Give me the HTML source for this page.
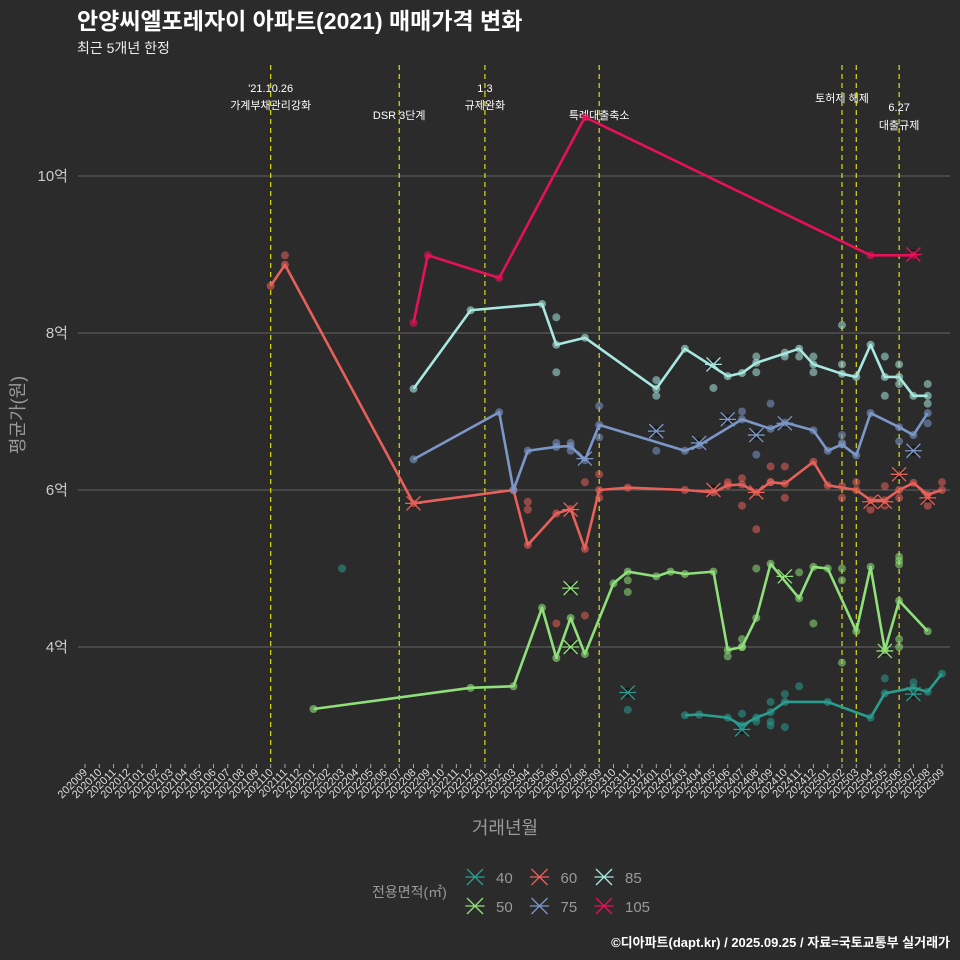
<!DOCTYPE html>
<html><head><meta charset="utf-8"><style>
html,body{margin:0;padding:0;background:#2b2b2b;}
svg{display:block;font-family:"Liberation Sans","Noto Sans CJK KR",sans-serif;}
</style></head><body>
<svg id="chart" width="960" height="960" viewBox="0 0 960 960">
<rect width="960" height="960" fill="#2b2b2b"/>
<text x="77" y="29" fill="#fff" font-size="23" font-weight="bold">안양씨엘포레자이 아파트(2021) 매매가격 변화</text>
<text x="77" y="53" fill="#eee" font-size="14">최근 5개년 한정</text>
<g id="grid"></g><g id="vlines"></g><g id="series"></g><g id="axes"></g>
<text transform="translate(24,415) rotate(-90)" text-anchor="middle" fill="#999" font-size="18">평균가(원)</text>
<text x="505" y="834" text-anchor="middle" fill="#999" font-size="18">거래년월</text>
<g id="legend">
<text x="372" y="897" fill="#999" font-size="14">전용면적(㎡)</text>
</g>
<text x="950" y="947" text-anchor="end" fill="#fff" font-size="13" font-weight="bold">©디아파트(dapt.kr) / 2025.09.25 / 자료=국토교통부 실거래가</text>
</svg>
<script>
const months=[];for(let y=2020,m=9;months.length<61;){months.push(y+String(m).padStart(2,'0'));m++;if(m>12){m=1;y++;}}
const yTicks=[4,6,8,10];
const eventMonths=[13,22,28,36,53,54,57];
const eventLabels=[["'21.10.26","가계부채관리강화"],["","DSR 3단계"],["1.3","규제완화"],["","특례대출축소"],["토허제 해제",""],["",""],["6.27","대출규제"]];
const sizes=["40","50","60","75","85","105"];
const colors=["#2a9d8f","#8fe07a","#e8605a","#7b97c8","#a8e8e0","#e8105a"];
const line40=[[42,3.13],[43,3.14],[45,3.1],[46,3.0],[47,3.1],[48,3.17],[49,3.3],[52,3.3],[55,3.1],[56,3.41],[58,3.48],[59,3.43],[60,3.66]];
const line50=[[16,3.21],[27,3.48],[30,3.5],[32,4.5],[33,3.86],[34,4.37],[35,3.91],[37,4.81],[38,4.96],[40,4.9],[41,4.96],[42,4.93],[44,4.96],[45,3.96],[46,4.0],[47,4.37],[48,5.06],[50,4.62],[51,5.02],[52,5.0],[54,4.2],[55,5.02],[56,3.96],[57,4.59],[59,4.2]];
const line60=[[13,8.6],[14,8.87],[23,5.83],[30,6.0],[31,5.3],[33,5.7],[34,5.76],[35,5.25],[36,6.0],[38,6.03],[42,6.0],[44,5.97],[45,6.06],[46,6.07],[47,5.97],[48,6.1],[49,6.08],[51,6.36],[52,6.06],[54,6.0],[55,5.87],[56,5.87],[57,6.0],[58,6.09],[59,5.94],[60,6.0]];
const line75=[[23,6.39],[29,6.99],[30,6.0],[31,6.5],[33,6.55],[34,6.56],[35,6.38],[36,6.83],[42,6.5],[43,6.57],[46,6.9],[48,6.78],[49,6.86],[51,6.76],[52,6.5],[53,6.58],[54,6.44],[55,6.98],[57,6.8],[58,6.7],[59,6.98]];
const line85=[[23,7.29],[27,8.29],[32,8.37],[33,7.85],[35,7.94],[40,7.29],[42,7.8],[45,7.45],[46,7.49],[47,7.62],[50,7.8],[51,7.6],[53,7.48],[54,7.44],[55,7.85],[56,7.44],[57,7.44],[58,7.2],[59,7.2]];
const line105=[[23,8.13],[24,8.99],[29,8.7],[35,10.75],[55,8.99],[58,8.99]];
const pts40=[[38,3.2],[46,3.15],[47,3.05],[48,3.05],[48,3.3],[49,3.4],[50,3.5],[48,3.0],[49,2.98],[56,3.6],[58,3.55],[18,5.0]];
const pts50=[[38,4.85],[38,4.7],[45,3.88],[46,4.1],[46,4.0],[47,5.0],[50,4.95],[51,4.3],[53,5.0],[53,4.85],[53,3.8],[57,5.15],[57,5.1],[57,5.05],[57,4.1],[57,4.0]];
const pts60=[[36,6.2],[35,6.1],[31,5.85],[31,5.75],[36,5.9],[45,6.1],[46,6.15],[46,5.8],[47,5.5],[48,6.3],[48,6.1],[49,6.3],[49,5.9],[53,6.05],[53,5.9],[55,5.75],[56,6.05],[56,5.8],[57,5.9],[59,5.8],[60,6.1],[33,4.3],[35,4.4],[14,8.99],[54,6.1]];
const pts75=[[36,7.07],[36,6.67],[40,6.5],[46,7.0],[47,6.45],[48,7.1],[53,6.6],[53,6.7],[57,6.62],[59,6.85],[33,6.6],[34,6.6],[34,6.5]];
const pts85=[[33,8.2],[33,7.5],[40,7.4],[40,7.2],[44,7.3],[47,7.5],[47,7.7],[49,7.7],[49,7.75],[50,7.7],[51,7.7],[51,7.5],[53,8.1],[53,7.6],[56,7.7],[56,7.2],[57,7.6],[57,7.35],[59,7.35],[59,7.1]];
const pts105=[];
const x40=[[38,3.42],[46,2.95],[58,3.4]];
const x50=[[34,4.75],[34,4.0],[49,4.9],[56,3.95]];
const x60=[[23,5.83],[34,5.75],[44,6.0],[57,6.2],[59,5.9],[55,5.85],[56,5.85],[47,5.97]];
const x75=[[35,6.4],[40,6.75],[43,6.6],[45,6.9],[47,6.7],[49,6.85],[58,6.5]];
const x85=[[44,7.6]];
const x105=[[58,9.0]];
const lines=[line40,line50,line60,line75,line85,line105];
const ptsAll=[pts40,pts50,pts60,pts75,pts85,pts105];
const xsAll=[x40,x50,x60,x75,x85,x105];
const NS="http://www.w3.org/2000/svg";
const X=i=>85+14.283*i, Y=v=>490-(v-6)*78.5;
function mk(tag,attrs,parent){const e=document.createElementNS(NS,tag);for(const k in attrs)e.setAttribute(k,attrs[k]);parent.appendChild(e);return e;}
const grid=document.getElementById('grid'),vl=document.getElementById('vlines'),ser=document.getElementById('series'),ax=document.getElementById('axes'),leg=document.getElementById('legend');
yTicks.forEach(v=>{
 const l=mk('line',{x1:78,x2:950,y1:Y(v),y2:Y(v),stroke:'#666','stroke-width':1},grid);
 
 
 const t=mk('text',{x:68,y:Y(v)+5,'text-anchor':'end',fill:'#ccc','font-size':15},ax);
 t.textContent=v+'억';
 
 
});
months.forEach((m,i)=>{
 const tk=mk('line',{x1:X(i),x2:X(i),y1:764,y2:768,stroke:'#aaa','stroke-width':1},ax);
 
 
 const t=mk('text',{transform:`translate(${X(i)+3},${773}) rotate(-45)`,'text-anchor':'end',fill:'#ddd','font-size':11},ax);
 t.textContent=m;
 
 
});
eventMonths.forEach((mi,k)=>{
 const l=mk('line',{x1:X(mi),x2:X(mi),y1:65,y2:762,stroke:'#dede10','stroke-width':1.2,'stroke-dasharray':'5,4'},vl);
 
 
 const lb=eventLabels[k];
 let y1=92,y2=109;
 if(mi===22||mi===36){y2=119;}
 if(mi===53){y1=102;}
 if(mi===57){y1=111;y2=129;}
 [[lb[0],y1],[lb[1],y2]].forEach(([s,yy])=>{if(!s)return;
  const t=mk('text',{x:X(mi),y:yy,'text-anchor':'middle',fill:'#fff','font-size':11},vl);
  t.textContent=s;
  
  
 });
});
function xmark(g,cx,cy,c,s){
 mk('path',{d:`M${cx-s},${cy-s}L${cx+s},${cy+s}M${cx-s},${cy+s}L${cx+s},${cy-s}M${cx-s*1.2},${cy}L${cx+s*1.2},${cy}`,stroke:c,'stroke-width':1.3,fill:'none'},g);
}
sizes.forEach((s,k)=>{
 const g=mk('g',{},ser);
 
 
 const c=colors[k];
 ptsAll[k].forEach(p=>{
  const d=mk('circle',{cx:X(p[0]),cy:Y(p[1]),r:4,fill:c,opacity:0.55},g);
  
  
 });
 xsAll[k].forEach(p=>{
  const m=mk('g',{},g);
  
  
  mk('circle',{cx:X(p[0]),cy:Y(p[1]),r:5,fill:'#111',opacity:0.6},m);
  xmark(m,X(p[0]),Y(p[1]),c,7);
 });
 const pl=mk('polyline',{points:lines[k].map(p=>X(p[0])+','+Y(p[1])).join(' '),fill:'none',stroke:c,'stroke-width':2.6,'stroke-linejoin':'round'},g);
 
 
 lines[k].forEach(p=>{
  const d=mk('circle',{cx:X(p[0]),cy:Y(p[1]),r:4,fill:c,opacity:0.6},g);
  
  
 });
 const col=Math.floor(k/2),row=k%2;
 const lx=475+col*64.5,ly=882+row*29;
 const e=mk('g',{},leg);
 
 
 xmark(e,lx,ly-5,c,8);
 const t=mk('text',{x:lx+21,y:ly+1,fill:'#999','font-size':15},e);
 t.textContent=s;
});
</script>
</body></html>
